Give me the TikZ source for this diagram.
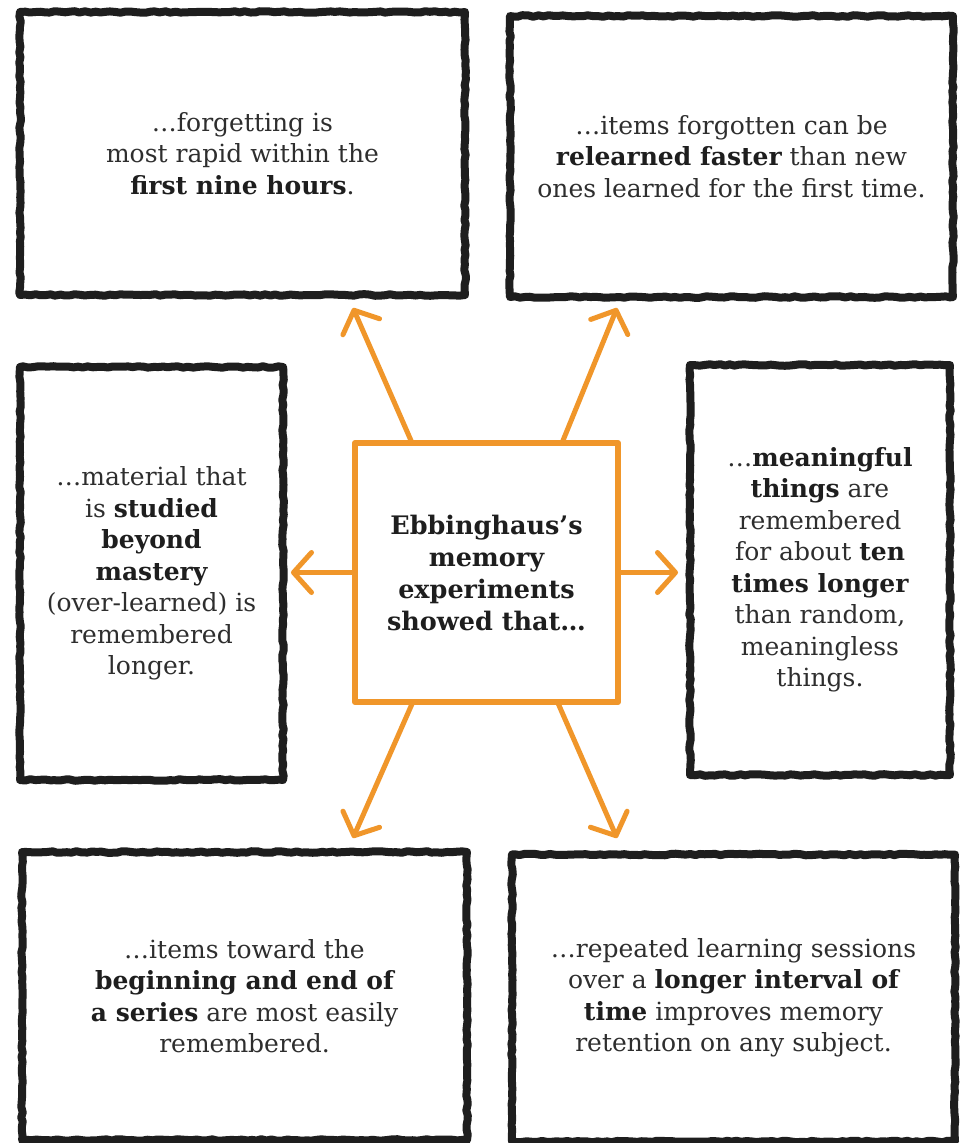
\documentclass[tikz,border=0pt]{standalone}
\usepackage{fontspec}
\setmainfont{DejaVu Serif}
\usetikzlibrary{arrows.meta,decorations.pathmorphing,calc}
\definecolor{ink}{HTML}{1E1E1E}
\definecolor{txt}{HTML}{2E2E2E}
\definecolor{orng}{HTML}{F0962A}
\newcommand{\hb}[1]{{\bfseries\color{ink}#1}}
\begin{document}
\begin{tikzpicture}[x=1pt,y=-1pt,
  sketchbox/.style={draw=ink, line width=8pt, line join=round, decorate,
    decoration={random steps,segment length=5pt,amplitude=0.8pt},
    align=center, text=txt, font=\fontsize{25}{31.5}\selectfont,
    inner sep=0pt, outer sep=0pt},
  centerbox/.style={draw=orng, line width=6pt, line join=round, align=center,
    text=ink, font=\fontsize{25.5}{32}\selectfont\bfseries, inner sep=0pt, outer sep=0pt},
  arr/.style={draw=orng, line width=5pt, line cap=round,
    -{Straight Barb[length=18pt,width=40pt,line width=5pt,round]}}
]
\useasboundingbox (0,0) rectangle (964,1143);
\fill[white] (0,0) rectangle (964,1143);

% outer boxes
\node[sketchbox, minimum width=445pt, minimum height=283pt] (tl) at (242.5,153.5)
  {…forgetting is\\most rapid within the\\\hb{first nine hours}.};
\node[sketchbox, minimum width=443pt, minimum height=281pt] (tr) at (731.5,156.5)
  {…items forgotten can be\\\hb{relearned faster} than new\\ones learned for the first time.};
\node[sketchbox, minimum width=263pt, minimum height=413pt] (ml) at (151.5,573.5)
  {…material that\\is \hb{studied}\\\hb{beyond}\\\hb{mastery}\\(over-learned) is\\remembered\\longer.};
\node[sketchbox, minimum width=260pt, minimum height=410pt] (mr) at (820,570)
  {…\hb{meaningful}\\\hb{things} are\\remembered\\for about \hb{ten}\\\hb{times longer}\\than random,\\meaningless\\things.};
\node[sketchbox, minimum width=445pt, minimum height=288pt] (bl) at (244.5,996)
  {…items toward the\\\hb{beginning and end of}\\\hb{a series} are most easily\\remembered.};
\node[sketchbox, minimum width=443pt, minimum height=287pt] (br) at (733.5,998)
  {…repeated learning sessions\\over a \hb{longer interval of}\\\hb{time} improves memory\\retention on any subject.};

% centre box
\node[centerbox, minimum width=263pt, minimum height=259pt] (c) at (486.5,572.5)
  {Ebbinghaus’s\\memory\\experiments\\showed that…};

% arrow tips
\coordinate (tTL) at (353,308);
\coordinate (tTR) at (617,308);
\coordinate (tBL) at (353,838);
\coordinate (tBR) at (617,838);
\coordinate (tL) at (291,572.5);
\coordinate (tR) at (678,572.5);

\draw[arr] ($(c.north west)!0.217!(c.north east)$) -- (tTL);
\draw[arr] ($(c.north west)!0.787!(c.north east)$) -- (tTR);
\draw[arr] ($(c.south west)!0.22!(c.south east)$) -- (tBL);
\draw[arr] ($(c.south west)!0.77!(c.south east)$) -- (tBR);
\draw[arr] (c.west) -- (tL);
\draw[arr] (c.east) -- (tR);
\end{tikzpicture}
\end{document}
